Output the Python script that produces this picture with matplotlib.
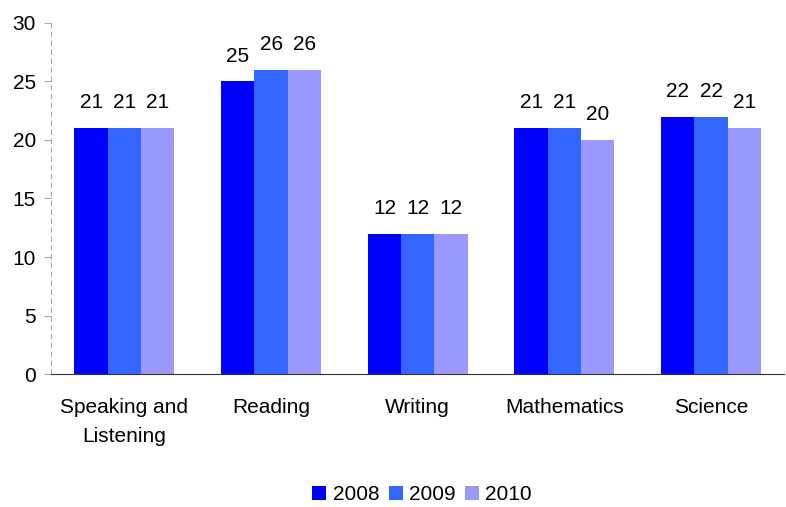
import matplotlib
matplotlib.use("Agg")
import matplotlib.pyplot as plt
import numpy as np

plt.rcParams['font.family'] = ['Liberation Sans', 'DejaVu Sans']

categories = ["Speaking and\nListening", "Reading", "Writing", "Mathematics", "Science"]
years = ["2008", "2009", "2010"]
v2008 = [21, 25, 12, 21, 22]
v2009 = [21, 26, 12, 21, 22]
v2010 = [21, 26, 12, 20, 21]
colors = ["#0000FF", "#3366FF", "#9999FF"]

fs = 15
fig = plt.figure(figsize=(7.86, 5.07), dpi=100)
ax = fig.add_axes([0.065, 0.262, 0.933, 0.693])

x = np.arange(len(categories))
w = 0.227
for i, (vals, lab, c) in enumerate(zip([v2008, v2009, v2010], years, colors)):
    bars = ax.bar(x + (i - 1) * w, vals, width=w, color=c, label=lab)
    for b, v in zip(bars, vals):
        ax.text(b.get_x() + b.get_width() / 2, v + 1.35, str(v), ha='center', va='bottom', fontsize=fs)

ax.set_xlim(-0.5, len(categories) - 0.5)
ax.set_ylim(0, 30)
ax.set_yticks(range(0, 31, 5))
ax.set_xticks(x)
ax.set_xticklabels(categories, fontsize=fs, linespacing=1.65)
ax.tick_params(axis='y', labelsize=fs, length=5, color='#AAAAAA', direction='out', pad=6)
ax.tick_params(axis='x', length=0, pad=17)

for s in ['top', 'right']:
    ax.spines[s].set_visible(False)
ax.spines['left'].set_color('#AAAAAA')
ax.spines['left'].set_linestyle((0, (4, 4)))
ax.spines['bottom'].set_color('#333333')

fig.legend(loc='center', bbox_to_anchor=(0.537, 0.024), ncol=3, frameon=False,
           fontsize=fs, handlelength=0.67, handleheight=0.67, handletextpad=0.3,
           columnspacing=0.45, borderpad=0)

fig.savefig("out.png", dpi=100)
